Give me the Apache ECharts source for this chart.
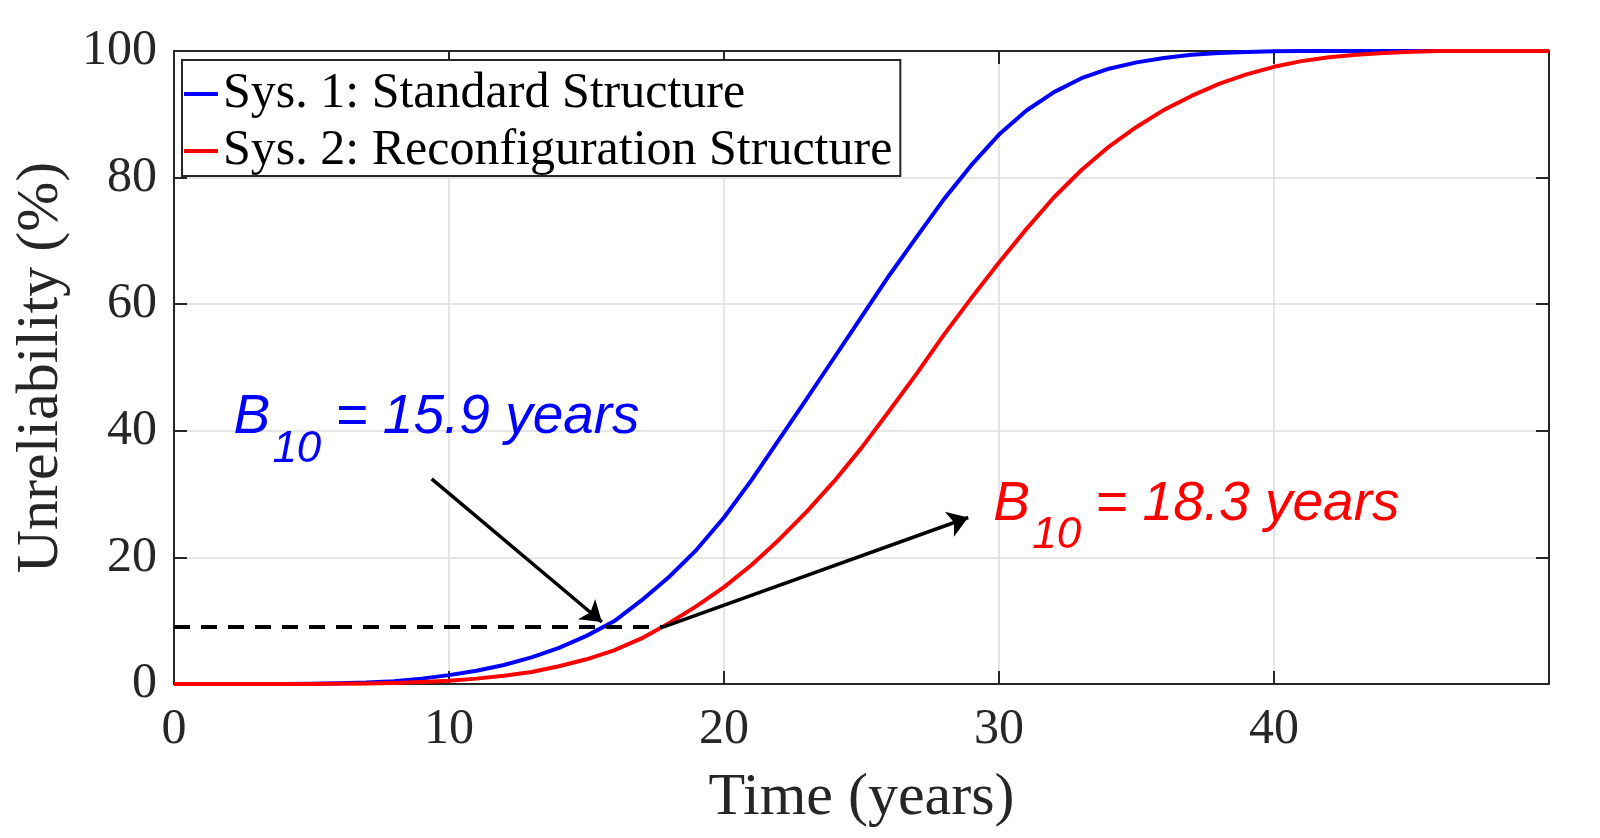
<!DOCTYPE html>
<html>
<head>
<meta charset="utf-8">
<script src="https://cdn.jsdelivr.net/npm/echarts@6/dist/echarts.min.js"></script>
<style>
html, body { margin: 0; padding: 0; background: #fff; }
#chart { width: 1600px; height: 838px; }
</style>
</head>
<body>
<div id="chart"></div>
<script>
const years = [0, 1, 2, 3, 4, 5, 6, 7, 8, 9, 10, 11, 12, 13, 14, 15, 16, 17, 18, 19, 20,
    21, 22, 23, 24, 25, 26, 27, 28, 29, 30, 31, 32, 33, 34, 35, 36, 37, 38, 39, 40,
    41, 42, 43, 44, 45, 46, 47, 48, 49, 50];
const sys1 = [0, 0, 0, 0, 0.01, 0.04, 0.1, 0.22, 0.45, 0.85, 1.4, 2.1, 3.0, 4.2, 5.7, 7.6, 9.9, 13.2, 16.9, 21.2, 26.3,
    32.2, 38.6, 45.0, 51.5, 58.0, 64.5, 70.6, 76.6, 82.0, 86.8, 90.6, 93.5, 95.7, 97.2, 98.2, 98.9, 99.4, 99.7, 99.85, 99.95,
    100, 100, 100, 100, 100, 100, 100, 100, 100, 100];
const sys2 = [0, 0, 0, 0, 0, 0.01, 0.03, 0.08, 0.17, 0.3, 0.5, 0.85, 1.3, 1.9, 2.8, 3.9, 5.3, 7.2, 9.6, 12.3, 15.3,
    18.8, 22.8, 27.2, 32.0, 37.3, 43.1, 49.0, 55.2, 61.0, 66.6, 71.9, 76.9, 81.2, 84.9, 88.0, 90.7, 92.9, 94.8, 96.3, 97.5,
    98.4, 99.0, 99.4, 99.7, 99.9, 100, 100, 100, 100, 100];
const seriesNames = ["Sys. 1: Standard Structure", "Sys. 2: Reconfiguration Structure"];

// B10 marker line and the two arrows, in data units
const b10Line = [[0, 9.0], [17.78, 9.0]];
const arrow1 = [[9.37, 32.4], [15.56, 9.8]];
const arrow2 = [[17.78, 9.0], [28.88, 26.3]];
const note1 = { at: [2.16, 39.1], value: "15.9", color: "#0000ff" };
const note2 = { at: [29.79, 25.4], value: "18.3", color: "#ff0000" };

const serif = "'Liberation Serif', 'Times New Roman', serif";
const sans = "'Liberation Sans', Arial, sans-serif";
const axisColor = "#262626";

const myChart = echarts.init(document.getElementById("chart"));

const boxAxis = (show) => ({
    show: true,
    axisLine: { show: true, onZero: false, lineStyle: { color: axisColor, width: 2 } },
    axisTick: { show: true, inside: true, length: 13, lineStyle: { color: axisColor, width: 2 } },
    axisLabel: { show: show }
});

const xBase = { type: "value", min: 0, max: 50, interval: 10 };
const yBase = { type: "value", min: 0, max: 100, interval: 20 };

const option = {
    animation: false,
    backgroundColor: "#fff",
    textStyle: { fontFamily: serif },
    grid: { left: 174, right: 51, top: 51, bottom: 154, containLabel: false },
    legend: {
        data: seriesNames,
        orient: "vertical",
        left: 182,
        top: 60,
        padding: [9, 8, 0, 2],
        itemGap: 7,
        itemWidth: 34,
        itemHeight: 4,
        icon: "rect",
        backgroundColor: "#fff",
        borderColor: axisColor,
        borderWidth: 2,
        borderRadius: 0,
        textStyle: { fontSize: 50, fontFamily: serif, color: "#000", lineHeight: 50 }
    },
    xAxis: [
        Object.assign({}, xBase, boxAxis(true), {
            position: "bottom",
            name: "Time (years)",
            nameLocation: "middle",
            nameGap: 84,
            nameTextStyle: { fontSize: 60, fontFamily: serif, color: axisColor },
            axisLabel: {
                show: true, fontSize: 50, fontFamily: serif, color: axisColor, margin: 21,
                showMaxLabel: false
            },
            splitLine: { show: true, lineStyle: { color: "#dcdcdc", width: 1.5 } }
        }),
        Object.assign({}, xBase, boxAxis(false), {
            position: "top",
            splitLine: { show: false }
        })
    ],
    yAxis: [
        Object.assign({}, yBase, boxAxis(true), {
            position: "left",
            name: "Unreliability (%)",
            nameLocation: "middle",
            nameGap: 97,
            nameTextStyle: { fontSize: 60, fontFamily: serif, color: axisColor },
            axisLabel: { show: true, fontSize: 50, fontFamily: serif, color: axisColor, margin: 17 },
            splitLine: { show: true, lineStyle: { color: "#dcdcdc", width: 1.5 } }
        }),
        Object.assign({}, yBase, boxAxis(false), {
            position: "right",
            splitLine: { show: false }
        })
    ],
    series: [
        {
            name: seriesNames[0],
            type: "line",
            data: years.map((t, i) => [t, sys1[i]]),
            showSymbol: false,
            smooth: false,
            lineStyle: { color: "#0000ff", width: 4, join: "round" },
            itemStyle: { color: "#0000ff" },
            z: 3
        },
        {
            name: seriesNames[1],
            type: "line",
            data: years.map((t, i) => [t, sys2[i]]),
            showSymbol: false,
            smooth: false,
            lineStyle: { color: "#ff0000", width: 4, join: "round" },
            itemStyle: { color: "#ff0000" },
            z: 4
        },
        {
            name: "B10",
            type: "line",
            data: b10Line,
            showSymbol: false,
            silent: true,
            lineStyle: { color: "#000", width: 4, type: [16, 11] },
            z: 5,
            markLine: {
                silent: true,
                symbol: ["none", "arrow"],
                symbolSize: 20,
                label: { show: false },
                lineStyle: { color: "#000", width: 3.5, type: "solid" },
                data: [
                    [{ coord: arrow1[0] }, { coord: arrow1[1] }],
                    [{ coord: arrow2[0] }, { coord: arrow2[1] }]
                ]
            }
        }
    ]
};

myChart.setOption(option);

// B10 annotations: big B, subscript 10, then the value
const noteGraphics = (note) => {
    const p = myChart.convertToPixel({ gridIndex: 0 }, note.at);
    const base = { fontFamily: sans, fontStyle: "italic", fill: note.color, align: "left", verticalAlign: "middle" };
    return [
        { type: "text", x: p[0], y: p[1] - 19, style: Object.assign({ text: "B", fontSize: 55 }, base), z: 10 },
        { type: "text", x: p[0] + 39, y: p[1] + 28 - 15, style: Object.assign({ text: "10", fontSize: 44 }, base), z: 10 },
        { type: "text", x: p[0] + 102, y: p[1] - 19, style: Object.assign({ text: "= " + note.value + " years", fontSize: 55 }, base), z: 10 }
    ];
};

myChart.setOption({ graphic: noteGraphics(note1).concat(noteGraphics(note2)) });
</script>
</body>
</html>
